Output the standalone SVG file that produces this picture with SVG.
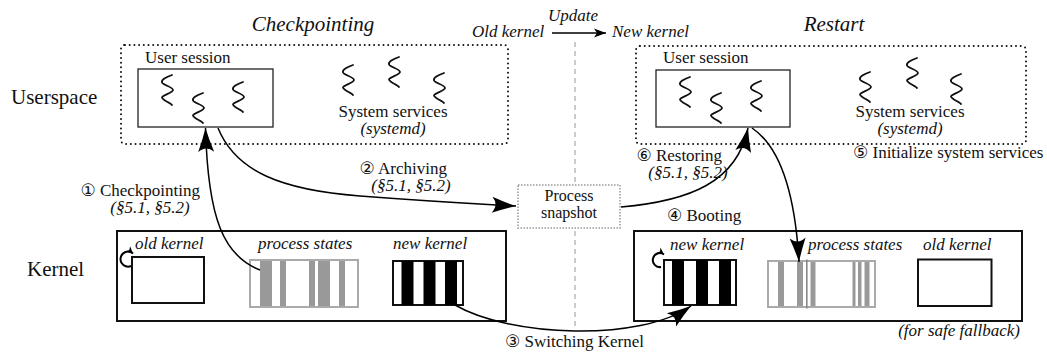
<svg xmlns="http://www.w3.org/2000/svg" width="1047" height="354" viewBox="0 0 1047 354">
<style>
text{font-family:"Liberation Serif","DejaVu Sans",serif;fill:#111}
.t{font-size:17px}
.i{font-size:17px;font-style:italic}
.s{font-size:16px}
.lbl{font-size:21px}
.ttl{font-size:21px;font-style:italic}
.mid{text-anchor:middle}
.end{text-anchor:end}
.dotbox{fill:none;stroke:#111;stroke-width:2;stroke-dasharray:0 4.7;stroke-linecap:round}
.sess{fill:#fff;stroke:#222;stroke-width:1.3}
.kbox{fill:none;stroke:#111;stroke-width:2}
.krect{fill:#fff;stroke:#111;stroke-width:2}
.prect{fill:#fff;stroke:#aaa;stroke-width:2}
.pbar{fill:#999}
.bk{fill:#000}
.sq{fill:none;stroke:#111;stroke-width:1.8;stroke-linecap:round;stroke-linejoin:round}
.conn{fill:none;stroke:#000;stroke-width:1.5}
.loop{fill:none;stroke:#000;stroke-width:2}
</style>
<defs>
<path id="sq" d="M11,0 C5,2 0,5 1,7.5 C2,10 12,12 12,15 C12,18 1,20 1,22.5 C1,25 10,28 11,30"/>
<marker id="big" viewBox="-25 -9 26 18" refX="0" refY="0" markerWidth="26" markerHeight="18" orient="auto" markerUnits="userSpaceOnUse">
<path d="M0,0 Q-11,-3 -24,-8 Q-17,0 -24,8 Q-11,3 0,0Z" fill="#000"/>
</marker>
<marker id="small" viewBox="-12 -5 13 10" refX="0" refY="0" markerWidth="13" markerHeight="10" orient="auto" markerUnits="userSpaceOnUse">
<path d="M0,0 L-12,-4.5 L-9,0 L-12,4.5Z" fill="#000"/>
</marker>
<marker id="tiny" viewBox="-8 -5 9 10" refX="0" refY="0" markerWidth="9" markerHeight="10" orient="auto" markerUnits="userSpaceOnUse">
<path d="M0,0 L-7,-3.5 L-5,0 L-7,3.5Z" fill="#000"/>
</marker>
</defs>

<!-- separator and headings -->
<line x1="575" y1="42" x2="575" y2="326" stroke="#bbb" stroke-width="1.5" stroke-dasharray="5 4"/>
<text class="ttl mid" x="313" y="31">Checkpointing</text>
<text class="ttl mid" x="834" y="31">Restart</text>
<text class="i" x="548" y="21">Update</text>
<text class="i" x="472" y="37">Old kernel</text>
<text class="i" x="612" y="37">New kernel</text>
<line x1="552" y1="33" x2="606" y2="33" stroke="#000" stroke-width="1.5" marker-end="url(#small)"/>
<text class="lbl" x="11" y="104">Userspace</text>
<text class="lbl" x="27" y="276">Kernel</text>

<!-- left userspace -->
<g id="userspace-old">
<rect class="dotbox" x="121" y="45" width="387" height="99" rx="4"/>
</g>
<g id="user-session-old">
<text class="t" x="145" y="63">User session</text>
<rect class="sess" x="138" y="69" width="135" height="58"/>
<use href="#sq" class="sq" x="161" y="75"/>
<use href="#sq" class="sq" x="192" y="93"/>
<use href="#sq" class="sq" x="232" y="82"/>
</g>
<g id="system-services-old">
<use href="#sq" class="sq" x="342" y="65"/>
<use href="#sq" class="sq" x="388" y="57"/>
<use href="#sq" class="sq" x="433" y="73"/>
<text class="t mid" x="393" y="117">System services</text>
<text class="i mid" x="393" y="134">(systemd)</text>
</g>

<!-- right userspace -->
<g id="userspace-new">
<rect class="dotbox" x="636" y="46" width="390" height="98" rx="4"/>
</g>
<g id="user-session-new">
<text class="t" x="663" y="63">User session</text>
<rect class="sess" x="656" y="70" width="134" height="57"/>
<use href="#sq" class="sq" x="679" y="77"/>
<use href="#sq" class="sq" x="710" y="93"/>
<use href="#sq" class="sq" x="750" y="81"/>
</g>
<g id="system-services-new">
<use href="#sq" class="sq" x="859" y="72"/>
<use href="#sq" class="sq" x="906" y="58"/>
<use href="#sq" class="sq" x="950" y="74"/>
<text class="t mid" x="910" y="117">System services</text>
<text class="i mid" x="910" y="134">(systemd)</text>
</g>

<!-- process snapshot -->
<g id="process-snapshot">
<rect x="518" y="185" width="102" height="43" fill="#fff" stroke="#999" stroke-width="1.5" stroke-dasharray="1.5 1.5"/>
<text class="s mid" x="569" y="201">Process</text>
<text class="s mid" x="569" y="218">snapshot</text>
</g>

<!-- left kernel -->
<g id="kernel-old">
<rect class="kbox" x="117" y="231" width="389" height="90"/>
<text class="i" x="135" y="249">old kernel</text>
<rect class="krect" x="132" y="257" width="72" height="46"/>
<path class="loop" d="M131,266 A7.5,7.5 0 1 1 133,253.5" marker-end="url(#tiny)"/>
<text class="i" x="258" y="249">process states</text>
<rect class="prect" x="250" y="260" width="108" height="47"/>
<rect class="pbar" x="260" y="261" width="12" height="45"/>
<rect class="pbar" x="280" y="261" width="6" height="45"/>
<rect class="pbar" x="309" y="261" width="6" height="45"/>
<rect class="pbar" x="318" y="261" width="12" height="45"/>
<rect class="pbar" x="339" y="261" width="6" height="45"/>
<text class="i" x="393" y="249">new kernel</text>
<rect class="krect" x="393" y="261" width="70" height="44"/>
<rect class="bk" x="401.5" y="261" width="12" height="44"/>
<rect class="bk" x="423.5" y="261" width="12" height="44"/>
<rect class="bk" x="445" y="261" width="12" height="44"/>
</g>

<!-- right kernel -->
<g id="kernel-new">
<rect class="kbox" x="634" y="231" width="388" height="90"/>
<text class="i" x="670" y="250">new kernel</text>
<rect class="krect" x="664" y="260" width="72" height="45"/>
<rect class="bk" x="672" y="260" width="12" height="45"/>
<rect class="bk" x="696" y="260" width="12" height="45"/>
<rect class="bk" x="719" y="260" width="12" height="45"/>
<path class="loop" d="M661,267 A7,7 0 1 1 664,254.5" marker-end="url(#tiny)"/>
<text class="i" x="808" y="250">process states</text>
<rect class="prect" x="768" y="261" width="107" height="46"/>
<rect class="pbar" x="778" y="262" width="6" height="44"/>
<rect class="pbar" x="797" y="262" width="6" height="44"/>
<rect x="806" y="259.5" width="1.6" height="49" fill="#888"/>
<rect class="pbar" x="810.5" y="262" width="5" height="44"/>
<rect class="pbar" x="852.5" y="262" width="3" height="44"/>
<rect class="pbar" x="858" y="262" width="3.5" height="44"/>
<rect class="pbar" x="864.5" y="262" width="5" height="44"/>
<text class="i" x="923" y="250">old kernel</text>
<rect class="krect" x="918" y="259.5" width="73.5" height="46.5"/>
<text class="i end" x="1020" y="336">(for safe fallback)</text>
</g>

<!-- connectors -->
<g id="connectors">
<path class="conn" d="M260,270 C224,256 208,220 205.5,128" marker-end="url(#big)"/>
<path class="conn" d="M218,128 C236,172 282,190 360,196 S480,204 516,206" marker-end="url(#big)"/>
<path class="conn" d="M455,305 C510,337 640,342 691,306" marker-end="url(#big)"/>
<path class="conn" d="M621,207 C690,201 737,182 748,128" marker-end="url(#big)"/>
<path class="conn" d="M752,128 C779,146 795,192 799,262" marker-end="url(#big)"/>
</g>

<!-- step labels -->
<g id="labels">
<text class="t end" x="200" y="196">① Checkpointing</text>
<text class="i mid" x="150" y="213">(§5.1, §5.2)</text>
<text class="t end" x="447" y="174">② Archiving</text>
<text class="i mid" x="411" y="191">(§5.1, §5.2)</text>
<text class="t" x="505" y="347">③ Switching Kernel</text>
<text class="t" x="667" y="221">④ Booting</text>
<text class="t" x="853" y="158">⑤ Initialize system services</text>
<text class="t end" x="722" y="161">⑥ Restoring</text>
<text class="i mid" x="688" y="178">(§5.1, §5.2)</text>
</g>
</svg>
